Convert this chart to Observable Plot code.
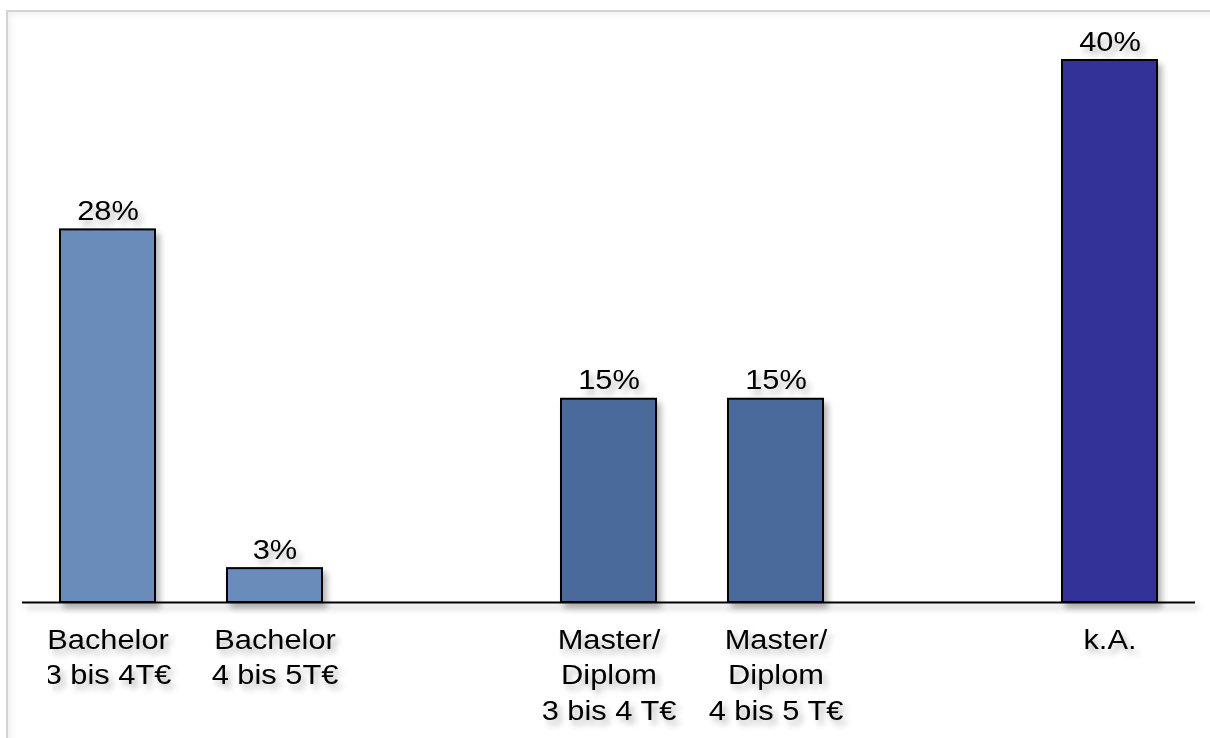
<!DOCTYPE html>
<html>
<head>
<meta charset="utf-8">
<script src="https://cdn.jsdelivr.net/npm/d3@7"></script>
<script src="https://cdn.jsdelivr.net/npm/@observablehq/plot@0.6"></script>
<style>
  html, body { margin: 0; padding: 0; background: #fff; overflow: hidden; }
  #frame { position: absolute; left: 6px; top: 10px; width: 1300px; height: 800px;
           border-left: 2px solid #d4d4d4; border-top: 2px solid #d4d4d4;
           box-shadow: inset 3px 3px 6px rgba(0,0,0,0.06); }
  #chart { position: absolute; left: 0; top: 0; }
  #chart svg { font-family: "Liberation Sans", Arial, sans-serif; background: transparent; }
</style>
</head>
<body>
<div id="frame"></div>
<div id="chart"></div>
<script>
const categories = ["Bachelor\n3 bis 4T€", "Bachelor\n4 bis 5T€", "Master/\nDiplom\n3 bis 4 T€", "Master/\nDiplom\n4 bis 5 T€", "k.A."];
const values = [27.5, 2.5, 15, 15, 40];
const valueLabels = ["28%", "3%", "15%", "15%", "40%"];
const colors = ["#6b8cba", "#6b8cba", "#4a6a9a", "#4a6a9a", "#333399"];
const slots = [categories[0], categories[1], "gap1", categories[2], categories[3], "gap2", categories[4]];

const data = categories.map((c, i) => ({cat: c, value: values[i], label: valueLabels[i], color: colors[i]}));

const chart = Plot.plot({
  width: 1210,
  height: 738,
  marginLeft: 22,
  marginRight: 15,
  marginTop: 60,
  marginBottom: 136,
  style: {background: "transparent"},
  x: {domain: slots, paddingInner: 0.433, paddingOuter: 0.2165, axis: null},
  y: {domain: [0, 40], axis: null},
  marks: [
    Plot.barY(data, {x: "cat", y: "value", fill: "color", stroke: "#000", strokeWidth: 2, className: "bars"}),
    Plot.ruleY([0], {stroke: "#000", strokeWidth: 2, className: "base"}),
    Plot.text(data, {x: "cat", y: "value", text: "label", dy: -10, lineAnchor: "bottom", fontSize: 28, fill: "#000", className: "vals"}),
    Plot.axisX({domain: slots, tickSize: 0, tickPadding: 21, fontSize: 28, lineHeight: 1.27, lineAnchor: "top", label: null,
      tickFormat: d => d.startsWith("gap") ? "" : d, fill: "#000", className: "ticks"})
  ]
});

// drop shadow filter
const ns = "http://www.w3.org/2000/svg";
const defs = document.createElementNS(ns, "defs");
defs.innerHTML = `<filter id="sh" filterUnits="userSpaceOnUse" x="0" y="0" width="1210" height="738">
  <feGaussianBlur in="SourceAlpha" stdDeviation="3"/>
  <feOffset dx="4" dy="5" result="o"/>
  <feComponentTransfer><feFuncA type="linear" slope="0.3"/></feComponentTransfer>
  <feMerge><feMergeNode/><feMergeNode in="SourceGraphic"/></feMerge>
</filter>`;
chart.insertBefore(defs, chart.firstChild);
chart.querySelectorAll(".bars, .vals, .ticks, .base").forEach(g => g.setAttribute("filter", "url(#sh)"));
// slight horizontal stretch of labels, as in the reference
chart.querySelectorAll(".vals text, .ticks text").forEach(t => {
  const tr = t.getAttribute("transform") || "";
  t.setAttribute("transform", tr + " scale(1.1,1)");
});

document.getElementById("chart").appendChild(chart);
</script>
</body>
</html>
